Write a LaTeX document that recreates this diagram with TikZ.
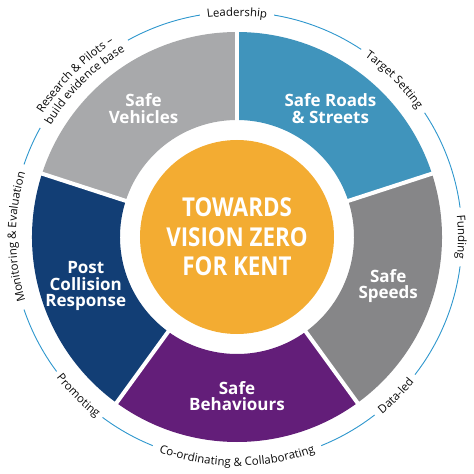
\documentclass[tikz,border=0pt]{standalone}
\usepackage{fontspec}
\setmainfont{Open Sans}
\usepackage{tikz}
\usetikzlibrary{decorations.text}
\definecolor{vehiclegrey}{RGB}{168,169,171}
\definecolor{roadblue}{RGB}{64,148,188}
\definecolor{speedgrey}{RGB}{134,134,136}
\definecolor{behaviourpurple}{RGB}{99,30,121}
\definecolor{responsenavy}{RGB}{18,62,117}
\definecolor{huborange}{RGB}{243,172,50}
\definecolor{ringblue}{RGB}{45,150,205}
\definecolor{ink}{RGB}{10,10,10}
\newcommand{\ringfont}{\fontsize{11.5}{13}\selectfont\color{ink}}
\tikzset{sector/.style={fill=#1}}
\tikzset{gap/.style={white, line width=4pt}}
\tikzset{ring/.style={draw=ringblue, line width=0.9pt}}
\tikzset{pillar/.style={text=white, align=center, font=\fontsize{17}{16.5}\selectfont\bfseries}}
\tikzset{hub/.style={circle, fill=huborange, minimum size=194pt, inner sep=0pt}}
\tikzset{motto/.style={text=white, align=center, xscale=0.86, transform shape, font=\fontsize{26}{29.5}\selectfont\bfseries}}
\tikzset{topword/.style={decorate, decoration={text along path, text align=center, text={|\ringfont|#1}}}}
\tikzset{bottomword/.style={decorate, decoration={text along path, text align=center, text={|\ringfont|#1}}}}

\begin{document}
\begin{tikzpicture}[x=1pt,y=1pt]
\useasboundingbox (-237,-237) rectangle (237,237);
% the five pillars
\fill[sector=vehiclegrey] (90:117) arc[start angle=90, end angle=162, radius=117] -- (162:205) arc[start angle=162, end angle=90, radius=205] -- cycle;
\fill[sector=responsenavy] (162:117) arc[start angle=162, end angle=234, radius=117] -- (234:205) arc[start angle=234, end angle=162, radius=205] -- cycle;
\fill[sector=behaviourpurple] (234:117) arc[start angle=234, end angle=306, radius=117] -- (306:205) arc[start angle=306, end angle=234, radius=205] -- cycle;
\fill[sector=speedgrey] (-54:117) arc[start angle=-54, end angle=18, radius=117] -- (18:205) arc[start angle=18, end angle=-54, radius=205] -- cycle;
\fill[sector=roadblue] (18:117) arc[start angle=18, end angle=90, radius=117] -- (90:205) arc[start angle=90, end angle=18, radius=205] -- cycle;
\draw[gap] (90:112) -- (90:210);
\draw[gap] (162:112) -- (162:210);
\draw[gap] (234:112) -- (234:210);
\draw[gap] (306:112) -- (306:210);
\draw[gap] (18:112) -- (18:210);
\node (vehicles) at (126:159)[pillar]{Safe\\Vehicles};
\node (roads) at (54:159)[pillar]{Safe Roads\\\& Streets};
\node (speeds) at (-18:159)[pillar]{Safe\\Speeds};
\node (behaviours) at (-90:159)[pillar]{Safe\\Behaviours};
\node (response) at (198:159)[pillar]{Post\\Collision\\Response};
% centre
\node (kent) at (0,0)[hub]{};
\node (vision) at (kent.center)[motto]{TOWARDS\\VISION ZERO\\FOR KENT};
% outer ring
\draw[ring] (99.5:225) arc[start angle=99.5, end angle=119, radius=225];
\draw[ring] (151:225) arc[start angle=151, end angle=161.2, radius=225];
\draw[ring] (198.8:225) arc[start angle=198.8, end angle=216.7, radius=225];
\draw[ring] (233.3:225) arc[start angle=233.3, end angle=248, radius=225];
\draw[ring] (292:225) arc[start angle=292, end angle=307.7, radius=225];
\draw[ring] (322.3:225) arc[start angle=322.3, end angle=352.5, radius=225];
\draw[ring] (7.5:225) arc[start angle=7.5, end angle=33.5, radius=225];
\draw[ring] (56.5:225) arc[start angle=56.5, end angle=80.5, radius=225];
\path[topword={Leadership}] (120:221) arc[start angle=120, end angle=60, radius=221];
\path[topword={Target Setting}] (75:221) arc[start angle=75, end angle=15, radius=221];
\path[topword={Funding}] (30:221) arc[start angle=30, end angle=-30, radius=221];
\path[bottomword={Data-led}] (-75:229) arc[start angle=-75, end angle=-15, radius=229];
\path[bottomword={Co-ordinating {\&} Collaborating}] (-125:229) arc[start angle=-125, end angle=-55, radius=229];
\path[bottomword={Promoting}] (-165:229) arc[start angle=-165, end angle=-105, radius=229];
\path[topword={Monitoring {\&} Evaluation}] (210:221) arc[start angle=210, end angle=150, radius=221];
\path[topword={Research {\&} Pilots –}] (170:230) arc[start angle=170, end angle=100, radius=230];
\path[topword={build evidence base}] (170:217) arc[start angle=170, end angle=100, radius=217];
\end{tikzpicture}
\end{document}
